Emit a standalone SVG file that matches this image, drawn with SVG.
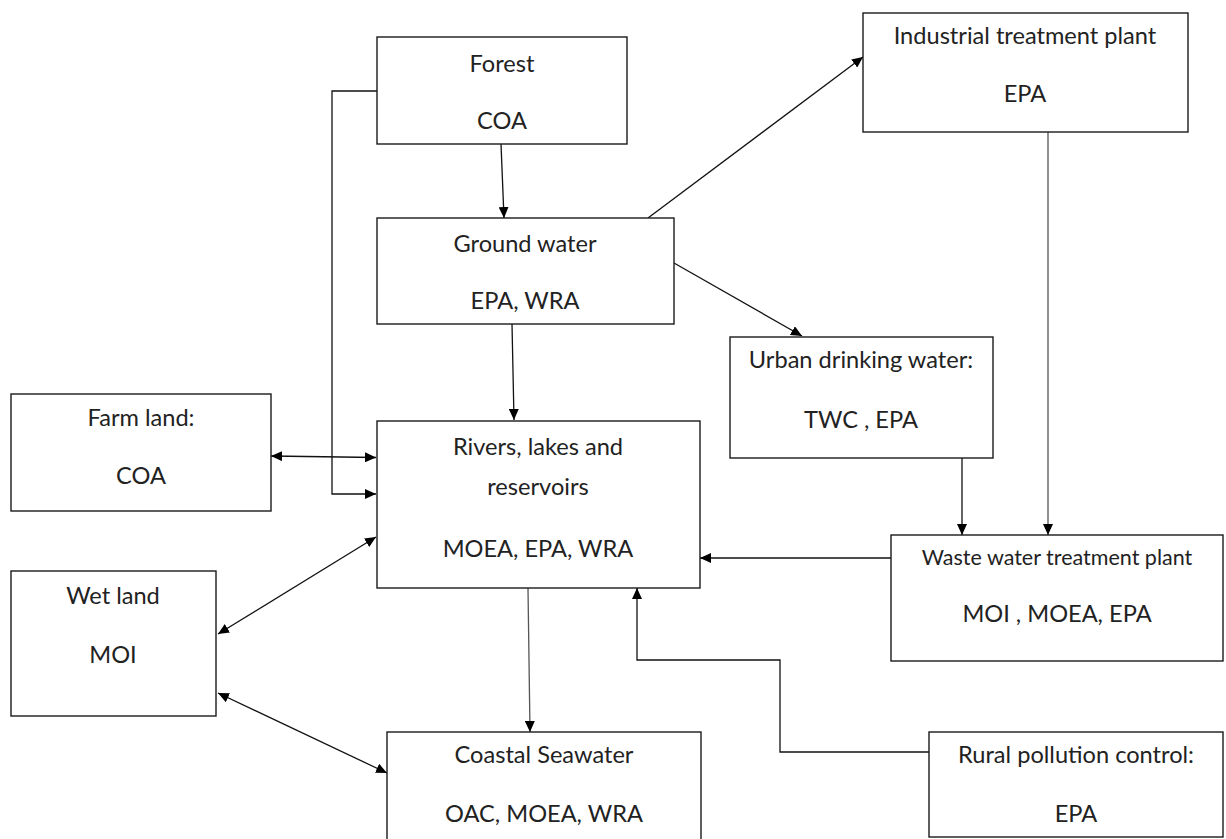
<svg xmlns="http://www.w3.org/2000/svg" width="1226" height="839" viewBox="0 0 1226 839">
<style>
.box{fill:#fff;stroke:#1a1a1a;stroke-width:1.4}
.t{font-family:Lato,"Liberation Sans",sans-serif;font-size:23.6px;fill:#222;text-anchor:middle}
.s{font-size:21.5px}
.c{fill:none;stroke:#111;stroke-width:1.3}
.g{stroke:#555}
</style>
<defs>
<marker id="ah" viewBox="0 0 11 10" refX="11" refY="5" markerWidth="11" markerHeight="10" markerUnits="userSpaceOnUse" orient="auto-start-reverse">
<path d="M0,0 L11,5 L0,10 z" fill="#000"/>
</marker>
</defs>
<rect width="1226" height="839" fill="#fff"/>
<g id="connectors">
<path class="c" d="M501,144 L504,218" marker-end="url(#ah)"/>
<path class="c" d="M377,91 H332 V494 H376" marker-end="url(#ah)"/>
<path class="c" d="M648,218 L863,57" marker-end="url(#ah)"/>
<path class="c" d="M674,263 L802,336" marker-end="url(#ah)"/>
<path class="c" d="M512,324 L514,420" marker-end="url(#ah)"/>
<path class="c" d="M271,456 L376,457.5" marker-start="url(#ah)" marker-end="url(#ah)"/>
<path class="c" d="M376,537 L218,634" marker-start="url(#ah)" marker-end="url(#ah)"/>
<path class="c" d="M218,693 L387,773" marker-start="url(#ah)" marker-end="url(#ah)"/>
<path class="c g" d="M528,588 L530,732" marker-end="url(#ah)"/>
<path class="c g" d="M1048,132 V535" marker-end="url(#ah)"/>
<path class="c" d="M962,458 V535" marker-end="url(#ah)"/>
<path class="c" d="M891,558 H700" marker-end="url(#ah)"/>
<path class="c" d="M929,752 H780 V660 H637 V588" marker-end="url(#ah)"/>
</g>
<g id="forest"><rect class="box" x="377" y="37" width="250" height="107"/><text class="t" x="502" y="72">Forest</text><text class="t" x="502" y="129">COA</text></g>
<g id="industrial"><rect class="box" x="863" y="13" width="325" height="119"/><text class="t" x="1025" y="44">Industrial treatment plant</text><text class="t" x="1025" y="102">EPA</text></g>
<g id="groundwater"><rect class="box" x="377" y="218" width="297" height="106"/><text class="t" x="525" y="252">Ground water</text><text class="t" x="525" y="309">EPA, WRA</text></g>
<g id="urban"><rect class="box" x="730" y="337" width="263" height="121"/><text class="t" x="861" y="368">Urban drinking water:</text><text class="t" x="861" y="428">TWC , EPA</text></g>
<g id="farm"><rect class="box" x="11" y="394" width="260" height="117"/><text class="t" x="141" y="426">Farm land:</text><text class="t" x="141" y="484">COA</text></g>
<g id="rivers"><rect class="box" x="377" y="421" width="323" height="167"/><text class="t" x="538" y="455">Rivers, lakes and</text><text class="t" x="538" y="495">reservoirs</text><text class="t" x="538" y="557">MOEA, EPA, WRA</text></g>
<g id="wetland"><rect class="box" x="11" y="571" width="205" height="145"/><text class="t" x="113" y="604">Wet land</text><text class="t" x="113" y="663">MOI</text></g>
<g id="waste"><rect class="box" x="891" y="535" width="332" height="126"/><text class="t s" x="1057" y="565">Waste water treatment plant</text><text class="t" x="1057" y="622">MOI , MOEA, EPA</text></g>
<g id="coastal"><rect class="box" x="387" y="732" width="314" height="112"/><text class="t" x="544" y="763">Coastal Seawater</text><text class="t" x="544" y="822">OAC, MOEA, WRA</text></g>
<g id="rural"><rect class="box" x="929" y="732" width="294" height="105"/><text class="t" x="1076" y="763">Rural pollution control:</text><text class="t" x="1076" y="822">EPA</text></g>
</svg>
